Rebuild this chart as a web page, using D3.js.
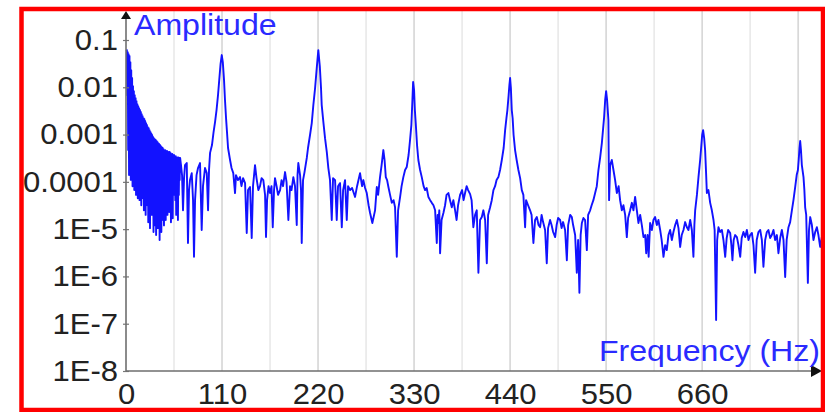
<!DOCTYPE html>
<html>
<head>
<meta charset="utf-8">
<script src="https://cdn.jsdelivr.net/npm/d3@7"></script>
<style>
  html, body { margin: 0; padding: 0; background: #fff; }
  svg { display: block; font-family: "Liberation Sans", Arial, Helvetica, sans-serif; }
</style>
</head>
<body>
<svg id="chart" width="825" height="412"></svg>
<script>
// Amplitude spectrum, [frequency in Hz, amplitude], split into bands.
// 0–62 Hz: rapidly oscillating decay after the onset (upper/lower excursions).
const bandOnset = [
  [0.5,0.058],[1,0.061],[1.5,0.0068],[2,0.055],[2.5,0.00047],[3,0.050],[3.5,1.4e-4],[4,0.046],[4.5,2.3e-4],
  [5,0.034],[5.5,1.1e-4],[6,0.023],[6.5,1.3e-4],[7,0.0157],[7.5,8.1e-5],[8,0.0106],[8.5,1.6e-4],[9,0.0083],
  [9.5,6.7e-5],[10,0.0068],[10.5,9.9e-5],[11,0.0059],[11.5,5.3e-5],[12,0.0051],[12.5,1.1e-4],[13,0.0044],
  [13.5,4.5e-5],[14,0.0040],[14.5,8.1e-5],[15,0.0036],[15.5,4.1e-5],[16,0.0033],[16.5,7.4e-5],[17,0.0030],
  [17.5,3.2e-5],[18,0.0027],[18.5,6.1e-5],[19,0.00246],[19.5,4.5e-5],[20,0.00223],[20.5,2.5e-5],[21,0.00213],
  [21.5,5.3e-5],[22,0.00193],[22.5,2.0e-5],[23,0.00175],[23.5,4.1e-5],[24,0.00159],[24.5,3.2e-5],[25,0.00144],
  [25.5,1.4e-5],[26,0.00137],[26.5,2.5e-5],[27,0.00124],[27.5,1.05e-5],[28,0.00113],[28.5,3.2e-5],[29,0.00105],
  [29.5,2.0e-5],[30,0.00098],[30.5,2.5e-5],[31,0.00089],[31.5,8.7e-6],[32,0.00084],[32.5,2.3e-5],[33,0.0008],
  [33.5,1.2e-5],[34,0.00077],[34.5,7.5e-6],[35,0.00073],[35.5,2.0e-5],[36,0.0007],[36.5,1.05e-5],[37,0.00066],
  [37.5,1.56e-5],[38,0.00063],[38.5,5.9e-6],[39,0.0006],[39.5,1.2e-5],[40,0.00057],[40.5,8.7e-6],[41,0.00054],
  [41.5,1.56e-5],[42,0.00052],[42.5,2.0e-5],[43,0.00049],[43.5,1.2e-5],[44,0.00047],[44.5,3.2e-5],[45,0.00047],
  [45.5,1.56e-5],[46,0.00045],[46.5,4.1e-5],[47,0.00045],[47.5,2.0e-5],[48,0.00043],[48.5,5.3e-5],[49,0.00043],
  [49.5,2.3e-5],[50,0.00043],[50.5,6.7e-5],[51,0.00041],[51.5,1.4e-5],[52,0.00039],[52.5,3.2e-5],[53,0.00039],
  [53.5,1.7e-5],[54,0.00037],[54.5,5.3e-5],[55,0.00037],[55.5,8.1e-5],[56,0.00035],[56.5,4.1e-5],[57,0.00035],
  [57.5,2.0e-5],[58,0.00033],[58.5,6.7e-5],[59,0.00033],[59.5,1.56e-5],[60,0.00033],[60.5,5.3e-5],[61,0.00032],
  [61.5,1.1e-4],[62,0.00032]
];
// 62–200 Hz: first harmonic at 110 Hz.
const band110 = [
  [63.0,2.26e-4],[64.2,1.39e-4],[65.3,2.5e-5],[66.5,1.2e-4],[67.6,2.26e-4],[69.6,2.5e-4],[71.0,5.1e-6],
  [72.2,6.7e-5],[73.3,1.09e-4],[75.3,1.53e-4],[76.8,4.1e-5],[77.9,2.6e-6],[79.1,4.1e-5],[80.8,1.39e-4],
  [82.5,1.96e-4],[84.8,2.5e-4],[86.7,9.6e-6],[88.2,8.1e-5],[90.5,1.96e-4],[92.5,1.53e-4],[94.0,2.5e-5],
  [95.1,1.78e-4],[96.3,4.1e-4],[98.5,6.0e-4],[100.3,1.13e-3],[102.0,1.84e-3],[103.7,3.3e-3],[105.4,6.8e-3],
  [106.8,1.42e-2],[108.3,3.1e-2],[109.7,4.8e-2],[110.9,3.4e-2],[112.3,1.42e-2],[113.4,5.4e-3],[114.6,2.23e-3],
  [115.7,1.13e-3],[116.9,5.2e-4],[119.2,2.9e-4],[120.9,1.96e-4],[122.9,1.53e-4],[124.9,5.8e-5],[126.0,1.39e-4],
  [128.3,1.09e-4],[130.6,1.26e-4],[132.3,8.1e-5],[134.1,1.2e-4],[136.4,9.4e-5],[138.3,8.3e-6],[139.8,6.7e-5],
  [142.1,7.8e-5],[144.0,6.5e-6],[145.5,8.1e-5],[147.8,2.26e-4],[149.5,1.2e-4],[151.6,6.7e-5],[153.5,8.1e-5],
  [155.3,1.2e-4],[157.3,1.09e-4],[159.3,5.3e-5],[160.4,6.8e-6],[161.6,4.1e-5],[163.3,8.1e-5],[165.0,5.8e-5],
  [166.7,8.1e-5],[168.1,1.1e-5],[169.6,6.7e-5],[170.7,1.2e-4],[172.5,8.1e-5],[174.2,5.3e-5],[176.5,6.7e-5],
  [178.2,1.09e-4],[179.9,8.1e-5],[182.2,1.61e-4],[183.9,9.9e-5],[186.0,1.56e-5],[187.9,8.1e-5],[189.6,6.7e-5],
  [191.7,1.26e-4],[193.6,8.1e-5],[195.6,1.22e-5],[196.5,1.39e-4],[197.4,2.5e-4],[199.4,1.39e-4],[200.5,6.7e-5]
];
// 200–385 Hz: harmonics at 220 and 330 Hz, small line near 295 Hz.
const band220to330 = [
  [201.3,5.1e-6],[202.8,1.09e-4],[204.5,1.61e-4],[207.1,3.2e-4],[208.5,5.2e-4],[210.8,9.8e-4],[212.8,1.75e-3],
  [214.6,4.2e-3],[216.6,9.6e-3],[218.5,2.55e-2],[220.3,6.1e-2],[222.0,2.8e-2],[223.4,9.6e-3],[224.2,4.2e-3],
  [226.1,1.84e-3],[228.0,8.4e-4],[230.0,4.3e-4],[231.8,1.96e-4],[233.7,1.09e-4],[235.7,1.56e-5],[237.2,1.2e-4],
  [239.5,1.09e-4],[241.4,1.56e-5],[242.9,8.1e-5],[245.2,9.4e-5],[247.2,1.1e-5],[248.7,6.7e-5],[250.9,1.09e-4],
  [252.9,1.56e-5],[254.4,8.1e-5],[256.7,6.7e-5],[259.0,7.4e-5],[262.4,4.8e-5],[264.7,8.1e-5],[268.1,1.53e-4],
  [270.4,8.1e-5],[271.9,1.09e-4],[273.9,7.4e-5],[275.8,5.8e-5],[277.9,3.2e-5],[279.6,2.2e-5],[282.2,1.35e-5],
  [284.2,2.0e-5],[285.3,2.5e-5],[287.3,7.8e-5],[288.8,5.3e-5],[291.0,1.26e-4],[292.8,2.26e-4],[294.8,4.7e-4],
  [296.2,2.9e-4],[297.6,1.26e-4],[299.1,1.09e-4],[300.6,7.8e-5],[302.5,5.3e-5],[304.5,3.6e-5],[306.5,4.1e-5],
  [308.2,2.9e-5],[310.2,2.6e-6],[311.7,2.5e-5],[314.0,4.8e-5],[315.7,8.1e-5],[317.7,1.26e-4],[319.7,1.78e-4],
  [321.6,2.06e-4],[323.7,3.7e-4],[325.4,7.7e-4],[326.9,1.59e-3],[328.1,5.4e-3],[328.9,1.29e-2],[330.0,8.7e-3],
  [330.9,3.3e-3],[331.9,1.75e-3],[333.4,6.0e-4],[334.9,2.9e-4],[336.9,1.78e-4],[338.8,1.26e-4],[340.9,8.1e-5],
  [342.6,6.7e-5],[344.4,7.4e-5],[346.4,4.8e-5],[348.4,4.1e-5],[350.3,3.6e-5],[352.2,3.2e-5],[354.1,2.5e-5],
  [356.0,5.1e-6],[357.0,2.0e-5],[357.8,1.35e-5],[358.9,2.5e-5],[359.8,3.1e-6],[361.5,1.56e-5],[363.6,2.2e-5],
  [365.5,3.2e-5],[367.2,5.3e-5],[369.3,5.8e-5],[371.2,4.1e-5],[373.2,2.9e-5],[375.0,4.1e-5],[377.0,2.5e-5],
  [378.7,1.56e-5],[380.4,3.2e-5],[382.7,5.3e-5]
];
// 385–600 Hz: harmonics at 440 and 550 Hz.
const band440to550 = [
  [385.0,6.7e-5],[386.7,4.1e-5],[388.4,5.8e-5],[390.2,8.1e-5],[391.9,6.7e-5],[394.2,5.5e-5],[395.9,4.1e-5],
  [397.9,1.1e-5],[399.9,2.0e-5],[401.8,2.5e-5],[403.7,1.2e-6],[405.6,1.56e-5],[407.6,1.8e-5],[409.4,2.5e-5],
  [411.4,1.56e-5],[413.3,1.9e-6],[414.8,2.0e-5],[417.1,2.9e-5],[419.0,4.1e-5],[420.9,6.7e-5],[422.8,8.1e-5],
  [424.5,1.09e-4],[426.6,1.26e-4],[428.5,1.78e-4],[430.5,2.9e-4],[432.6,5.2e-4],[434.3,1.24e-3],[435.8,2.23e-3],
  [436.9,3.3e-3],[438.3,6.8e-3],[439.2,1.11e-2],[440.0,1.57e-2],[440.9,9.6e-3],[441.9,3.3e-3],[442.9,2.23e-3],
  [444.0,9.8e-4],[445.7,4.7e-4],[447.5,2.9e-4],[449.5,1.78e-4],[451.5,1.2e-4],[453.4,6.7e-5],[455.2,5.3e-5],
  [457.2,1.1e-5],[458.3,4.1e-5],[460.6,3.2e-5],[462.9,2.5e-5],[464.6,2.0e-5],[466.7,5.1e-6],[468.6,1.56e-5],
  [470.6,1.8e-5],[472.6,1.22e-5],[474.4,1.1e-5],[476.1,2.0e-5],[477.8,1.41e-5],[480.1,9.6e-6],[482.0,1.9e-6],
  [483.5,1.05e-5],[485.8,1.56e-5],[487.5,1.22e-5],[489.3,8.7e-6],[491.6,6.8e-6],[493.3,1.22e-5],[495.0,1.72e-5],
  [497.3,1.56e-5],[499.0,1.05e-5],[500.7,1.41e-5],[503.0,9.6e-6],[505.0,2.2e-6],[506.5,1.22e-5],[508.8,2.0e-5],
  [510.7,1.8e-5],[512.2,1.22e-5],[514.5,7.5e-6],[516.4,1.2e-6],[517.9,5.9e-6],[519.4,4.5e-7],[520.8,7.5e-6],
  [522.2,1.35e-5],[524.0,1.72e-5],[525.9,1.56e-5],[527.9,3.6e-6],[529.4,2.0e-5],[531.7,2.5e-5],[533.4,3.2e-5],
  [535.4,4.1e-5],[537.4,5.8e-5],[539.3,8.1e-5],[541.2,1.78e-4],[543.1,3.2e-4],[545.1,6.6e-4],[546.6,1.37e-3],
  [547.7,2.34e-3],[548.9,5.4e-3],[550.0,8.3e-3],[551.1,5.4e-3],[552.6,2.03e-3],[553.4,4.1e-5],[554.6,2.26e-4],
  [556.5,2.9e-4],[558.4,1.78e-4],[560.3,1.09e-4],[562.3,5.8e-5],[564.3,8.1e-5],[566.0,4.1e-5],[568.0,2.5e-5],
  [569.8,3.2e-5],[571.8,2.0e-5],[573.7,6.8e-6],[575.2,1.72e-5],[577.5,2.5e-5],[579.5,3.6e-5],[581.3,2.5e-5],
  [583.2,4.8e-5],[585.2,2.5e-5],[587.0,1.35e-5],[589.0,2.0e-5],[590.9,1.22e-5],[592.8,6.8e-6],[594.7,7.5e-6],
  [595.9,3.1e-6],[597.5,7.5e-6],[598.7,2.6e-6]
];
// 600–798 Hz: harmonics at 660 and 770 Hz.
const band660to770 = [
  [600.4,1.35e-5],[602.4,9.6e-6],[604.2,1.56e-5],[606.1,1.8e-5],[608.1,1.22e-5],[609.9,1.56e-5],[611.9,9.6e-6],
  [613.6,5.9e-6],[615.7,2.6e-6],[617.6,4.6e-6],[619.5,3.6e-6],[621.4,7.5e-6],[623.3,9.6e-6],[625.3,5.9e-6],
  [627.1,8.7e-6],[629.1,1.22e-5],[631.0,1.56e-5],[632.9,1.05e-5],[634.8,4.2e-6],[636.6,7.5e-6],[638.6,9.6e-6],
  [640.5,1.41e-5],[642.5,1.1e-5],[644.3,9.6e-6],[646.3,1.56e-5],[648.2,9.6e-6],[650.0,2.6e-6],[651.1,1.22e-5],
  [652.0,2.5e-5],[654.0,5.3e-5],[655.8,1.26e-4],[657.7,2.9e-4],[658.9,5.4e-4],[660.0,9.8e-4],[661.1,1.24e-3],
  [662.3,8.4e-4],[663.4,4.7e-4],[664.6,1.39e-4],[665.4,5.8e-5],[667.2,6.7e-5],[669.2,3.6e-5],[671.1,2.5e-5],
  [673.0,1.56e-5],[674.3,9.6e-6],[676.0,1.2e-7],[677.2,5.9e-6],[678.7,1.1e-5],[680.6,8.7e-6],[682.6,9.6e-6],
  [684.4,5.9e-6],[686.4,2.6e-6],[688.1,6.5e-6],[689.8,9.6e-6],[692.1,8.3e-6],[693.5,4.6e-6],[694.7,2.2e-6],
  [696.1,5.9e-6],[697.8,7.5e-6],[699.8,6.8e-6],[701.6,4.6e-6],[703.6,2.6e-6],[705.3,6.5e-6],[707.3,8.7e-6],
  [709.3,6.8e-6],[711.2,9.6e-6],[713.1,5.9e-6],[715.0,7.5e-6],[717.0,8.3e-6],[718.8,4.6e-6],[720.7,1.2e-6],
  [722.5,5.9e-6],[724.5,8.7e-6],[726.5,9.6e-6],[728.4,5.9e-6],[730.2,1.6e-6],[732.2,5.9e-6],[734.1,8.7e-6],
  [735.9,9.6e-6],[737.9,6.5e-6],[739.8,7.5e-6],[741.7,9.6e-6],[743.6,5.9e-6],[745.6,7.5e-6],[747.4,3.1e-6],
  [749.4,6.5e-6],[751.3,9.6e-6],[753.2,5.9e-6],[755.1,9.7e-7],[756.8,5.9e-6],[758.9,1.1e-5],[760.8,1.41e-5],
  [762.8,2.5e-5],[764.6,4.1e-5],[766.6,7.8e-5],[768.3,1.39e-4],[769.7,1.78e-4],[770.6,2.9e-4],[771.5,5.2e-4],
  [772.3,7.3e-4],[773.2,4.7e-4],[774.2,2.26e-4],[776.1,1.26e-4],[777.1,6.7e-5],[778.0,2.9e-5],[779.2,2.0e-5],
  [781.1,7.3e-7],[782.4,9.6e-6],[783.8,1.8e-5],[785.7,1.22e-5],[787.5,5.9e-6],[789.5,8.7e-6],[791.4,1.1e-5],
  [793.2,7.5e-6],[795.2,4.2e-6],[797.1,6.8e-6],[798.0,5.9e-6]
];

const xTickValues = [0, 110, 220, 330, 440, 550, 660];
const gridHz = [55, 110, 165, 220, 275, 330, 385, 440, 495, 550, 605, 660, 715, 770];
const yTickValues = [1e-8, 1e-7, 1e-6, 1e-5, 1e-4, 1e-3, 1e-2, 1e-1];
const yTickLabels = ["1E-8", "1E-7", "1E-6", "1E-5", "0.0001", "0.001", "0.01", "0.1"];
const yAxisTitle = "Amplitude";
const xAxisTitle = "Frequency (Hz)";

const spectrum = [].concat(bandOnset, band110, band220to330, band440to550, band660to770);

const svg = d3.select("#chart");
const originX = 126, originY = 371, rightX = 820, topY = 12;
const labelStretch = "scale(1.07,1)";

const x = d3.scaleLinear().domain([0, 795]).range([originX, rightX]);
const y = d3.scaleLog().domain([1e-8, 0.391]).range([originY, topY]);

svg.append("rect").attr("width", 825).attr("height", 412).attr("fill", "#fff");

// vertical grid lines every 55 Hz (stronger on multiples of 110 Hz)
svg.append("g").selectAll("line").data(gridHz).join("line")
  .attr("x1", d => x(d)).attr("x2", d => x(d))
  .attr("y1", 11).attr("y2", originY)
  .attr("stroke", d => d % 110 === 0 ? "#d8d8d8" : "#eaeaea")
  .attr("stroke-width", 1.7);

// spectrum trace
svg.append("path")
  .datum(spectrum)
  .attr("fill", "none")
  .attr("stroke", "#1212ff")
  .attr("stroke-width", 1.9)
  .attr("stroke-linejoin", "round")
  .attr("d", d3.line().x(d => x(d[0])).y(d => y(d[1])));

// y axis: ticks and labels
const gy = svg.append("g").attr("transform", `translate(${originX},0)`)
  .call(d3.axisLeft(y).tickValues(yTickValues)
    .tickFormat((d, i) => yTickLabels[i]).tickSize(3).tickPadding(5));
gy.select(".domain").remove();
gy.selectAll(".tick line").attr("x1", 3).attr("x2", -3).attr("stroke", "#777").attr("stroke-width", 1.2);
gy.selectAll(".tick text").attr("font-size", 29).attr("fill", "#222").attr("x", -7.5)
  .attr("transform", labelStretch)
  .attr("font-family", "'Liberation Sans', Arial, sans-serif");

// x axis: labels only
const gx = svg.append("g").attr("transform", `translate(0,${originY})`)
  .call(d3.axisBottom(x).tickValues(xTickValues).tickSize(0).tickPadding(12));
gx.select(".domain").remove();
gx.selectAll(".tick text").attr("font-size", 29).attr("fill", "#222")
  .attr("transform", labelStretch)
  .attr("font-family", "'Liberation Sans', Arial, sans-serif");

// axis lines with arrow heads
svg.append("line").attr("x1", originX).attr("x2", originX).attr("y1", 16).attr("y2", originY)
  .attr("stroke", "#6e6e6e").attr("stroke-width", 1.6);
svg.append("line").attr("x1", originX).attr("x2", 812).attr("y1", originY).attr("y2", originY)
  .attr("stroke", "#6e6e6e").attr("stroke-width", 1.6);
svg.append("path").attr("d", `M${originX},11 L${originX - 5},19 L${originX + 5},19 Z`).attr("fill", "#111");
svg.append("path").attr("d", `M822,${originY} L811,${originY - 6} L811,${originY + 6} Z`).attr("fill", "#111");

// axis titles
svg.append("text").attr("transform", `translate(134,35) ${labelStretch}`)
  .attr("font-size", 30).attr("fill", "#2a2aff").text(yAxisTitle);
svg.append("text").attr("transform", `translate(820,361) ${labelStretch}`).attr("text-anchor", "end")
  .attr("font-size", 30).attr("fill", "#2a2aff").text(xAxisTitle);

// red frame
svg.append("rect").attr("x", 21.5).attr("y", 9).attr("width", 801.5).attr("height", 401)
  .attr("fill", "none").attr("stroke", "#ff0000").attr("stroke-width", 4.5);
</script>
</body>
</html>
